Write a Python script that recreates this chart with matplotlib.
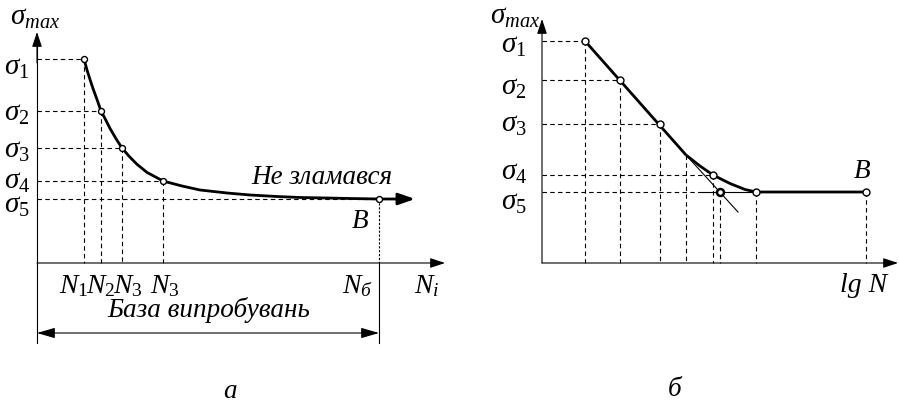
import matplotlib
matplotlib.use("Agg")
import matplotlib.pyplot as plt

plt.rcParams['mathtext.fontset'] = 'custom'
plt.rcParams['mathtext.it'] = 'Liberation Serif:italic'
plt.rcParams['mathtext.rm'] = 'Liberation Serif'
plt.rcParams['mathtext.bf'] = 'Liberation Serif:bold'
plt.rcParams['font.family'] = ['Liberation Serif', 'DejaVu Serif']

# ---------------- data (schematic units) ----------------
# panel a: sigma - N curve
N_left = [47, 64, 85, 126, 342]
S_left = [204, 152, 115, 82, 64]
N_left_labels = [r'$N_1$', r'$N_2$', r'$N_3$', r'$N_3$']
S_labels = [r'$\sigma_1$', r'$\sigma_2$', r'$\sigma_3$', r'$\sigma_4$', r'$\sigma_5$']
curve_left_x = [47, 50, 53, 56, 60, 64, 68, 73, 79, 85, 92, 100, 110, 126,
                145, 163, 190, 213, 240, 263, 290, 313, 342, 368]
curve_left_y = [204, 193, 183.5, 174.5, 163.5, 152, 144.5, 134.6, 124.3, 115, 106.8,
                98.7, 90.6, 82, 77, 73, 70, 68, 66.5, 65.5, 65, 64.5, 64, 64]

# panel b: sigma - lg N
N_right = [43, 78, 118, 171, 178]
S_right = [222, 183, 139, 88, 71]
knee = (214, 71)
B_right = (324, 71)
aux_x, aux_y = 144, 108
line_x = [43, 144]
line_y = [222, 108]
bend_x = [144, 158, 171, 188, 203, 214, 324]
bend_y = [108, 97, 88, 79.5, 73.5, 71, 71]
tangent_x = [144, 196]
tangent_y = [108, 51]

W, H = 899, 403
fig = plt.figure(figsize=(W / 100, H / 100), dpi=100)

lw_thick = 2.0
lw_thin = 0.8
dash = (0, (4, 3))
dot = (0, (2, 1.5))
fs = 19.5
fs_n = 20
fs_sig = 21

arrow_ax = dict(arrowstyle='-|>,head_length=0.9,head_width=0.3',
                color='black', lw=lw_thin, shrinkA=0, shrinkB=0)

# ================= panel a =================
ax1 = fig.add_axes([0, 0, 450 / W, 1])
ax1.set_xlim(-37, 413)
ax1.set_ylim(-140, 263)
ax1.axis('off')

# axes
ax1.plot([0, 0], [-80, 220], color='black', lw=lw_thin)
ax1.annotate('', xy=(0, 231), xytext=(0, 200), arrowprops=arrow_ax)
ax1.annotate('', xy=(408, 0), xytext=(0, 0), arrowprops=arrow_ax)

# guide lines
for i in range(4):
    ax1.plot([0, N_left[i]], [S_left[i], S_left[i]], color='black', lw=lw_thin, ls=dash)
    ax1.plot([N_left[i], N_left[i]], [S_left[i], 0], color='black', lw=lw_thin, ls=dash)
ax1.plot([0, N_left[4]], [S_left[4], S_left[4]], color='black', lw=lw_thin, ls=dash)
ax1.plot([N_left[4], N_left[4]], [S_left[4], 0], color='black', lw=lw_thin, ls=dot)
ax1.plot([N_left[4], N_left[4]], [0, -80], color='black', lw=lw_thin)

# curve
ax1.plot(curve_left_x, curve_left_y, color='black', lw=lw_thick, solid_capstyle='butt')
ax1.annotate('', xy=(378, 64), xytext=(360, 64),
             arrowprops=dict(arrowstyle='-|>,head_length=1.0,head_width=0.35',
                             color='black', lw=lw_thick, shrinkA=0, shrinkB=0))
ax1.plot(N_left, S_left, ls='none', marker='o', ms=4.3, mfc='white', mec='black', mew=1.0)

# base arrow
ax1.annotate('', xy=(0, -70), xytext=(N_left[4], -70),
             arrowprops=dict(arrowstyle='<|-|>,head_length=1.1,head_width=0.32',
                             color='black', lw=lw_thin, shrinkA=0, shrinkB=0))

# labels
ax1.text(-2, 245, r'$\sigma_{max}$', fontsize=fs_sig, ha='center', va='center')
sig_y_left = [195, 149, 112, 81, 57]
for lab, yy in zip(S_labels, sig_y_left):
    ax1.text(-20, yy, lab, fontsize=fs_sig, ha='center', va='center')
n_lab_x = [37, 64, 91, 128]
for lab, xx in zip(N_left_labels, n_lab_x):
    ax1.text(xx, -23, lab, fontsize=fs_n, ha='center', va='center')
ax1.text(321, -23, r'$N_б$', fontsize=fs_n, ha='center', va='center')
ax1.text(390, -23, r'$N_i$', fontsize=fs_n, ha='center', va='center')
ax1.text(285, 86, 'Не зламався', fontsize=fs, style='italic', ha='center', va='center')
ax1.text(323, 41, 'B', fontsize=fs, style='italic', ha='center', va='center')
ax1.text(172, -47, 'База випробувань', fontsize=fs, style='italic', ha='center', va='center')
ax1.text(193, -129, 'а', fontsize=fs, style='italic', ha='center', va='center')

# ================= panel b =================
ax2 = fig.add_axes([450 / W, 0, 449 / W, 1])
ax2.set_xlim(-92, 357)
ax2.set_ylim(-140, 263)
ax2.axis('off')

ax2.annotate('', xy=(0, 244), xytext=(0, 0), arrowprops=arrow_ax)
ax2.annotate('', xy=(356, 0), xytext=(0, 0), arrowprops=arrow_ax)

# guide lines
for i in range(4):
    ax2.plot([0, N_right[i]], [S_right[i], S_right[i]], color='black', lw=lw_thin, ls=dash)
ax2.plot([0, 160], [S_right[4], S_right[4]], color='black', lw=lw_thin, ls=dash)
ax2.plot([160, knee[0]], [S_right[4], S_right[4]], color='black', lw=lw_thin)
for xx, yy in list(zip(N_right, S_right)) + [(aux_x, aux_y), knee, B_right]:
    ax2.plot([xx, xx], [yy, 0], color='black', lw=lw_thin, ls=dash)

# tangent
ax2.plot(tangent_x, tangent_y, color='black', lw=lw_thin)
# curve
ax2.plot(line_x, line_y, color='black', lw=lw_thick, solid_capstyle='butt')
ax2.plot(bend_x, bend_y, color='black', lw=lw_thick, solid_capstyle='butt')
ax2.plot(N_right[:4] + [knee[0], B_right[0]], S_right[:4] + [knee[1], B_right[1]],
         ls='none', marker='o', ms=5, mfc='white', mec='black', mew=1.0)
ax2.plot([N_right[4]], [S_right[4]], ls='none', marker='o', ms=5,
         mfc='white', mec='black', mew=1.8)

# labels
ax2.text(-27, 246, r'$\sigma_{max}$', fontsize=fs_sig, ha='center', va='center')
sig_y_right = [217, 175, 138, 90, 60]
for lab, yy in zip(S_labels, sig_y_right):
    ax2.text(-28, yy, lab, fontsize=fs_sig, ha='center', va='center')
ax2.text(320, 91, 'B', fontsize=fs, style='italic', ha='center', va='center')
ax2.text(322, -23, 'lg N', fontsize=fs_n, style='italic', ha='center', va='center')
ax2.text(133, -127, 'б', fontsize=fs, style='italic', ha='center', va='center')

fig.savefig('out.png', dpi=100)
